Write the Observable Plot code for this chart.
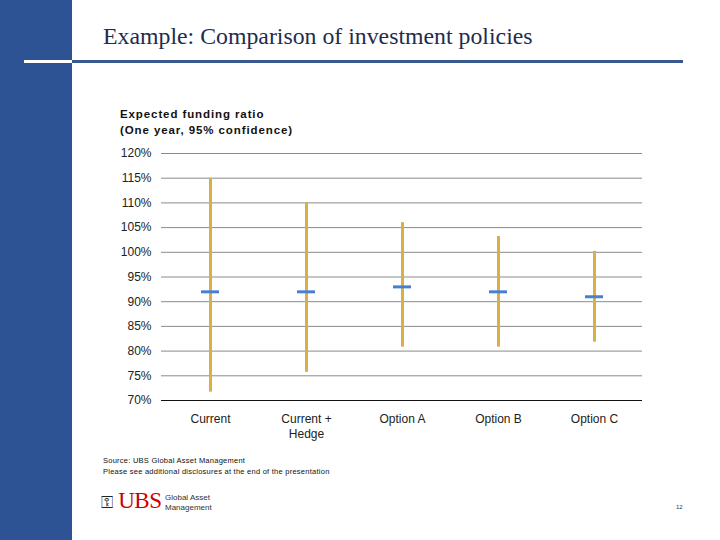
<!DOCTYPE html>
<html>
<head>
<meta charset="utf-8">
<script src="https://cdn.jsdelivr.net/npm/d3@7"></script>
<script src="https://cdn.jsdelivr.net/npm/@observablehq/plot@0.6"></script>
<style>
  html, body { margin: 0; padding: 0; background: #fff; }
  #page { position: relative; width: 720px; height: 540px; overflow: hidden; background: #fff; }
  .abs { position: absolute; }
  #sidebar { left: 0; top: 0; width: 72px; height: 540px; background: #2e5395; }
  #title { left: 103px; top: 23px; font-family: "Liberation Serif", "Times New Roman", serif; font-size: 23.8px; color: #1f2d4d; white-space: nowrap; }
  #rule1 { left: 24px; top: 60px; width: 48px; height: 3px; background: #fff; }
  #rule2 { left: 72px; top: 60px; width: 611px; height: 3px; background: #37598f; }
  #sub { left: 120px; top: 106px; font-family: "Liberation Sans", Arial, sans-serif; font-weight: bold; font-size: 11.5px; letter-spacing: 0.9px; line-height: 16px; color: #111; }
  #chart { left: 0; top: 140px; }
  #source { left: 103px; top: 455px; font-family: "Liberation Sans", Arial, sans-serif; font-size: 7.5px; letter-spacing: 0.25px; line-height: 11px; color: #111; }
  #logo { left: 101px; top: 488px; font-family: "Liberation Serif", "Times New Roman", serif; font-size: 23px; color: #c00; letter-spacing: -0.5px; }
  #logo2 { left: 165px; top: 493px; font-family: "Liberation Sans", Arial, sans-serif; font-size: 8px; line-height: 10px; color: #333; }
  #pnum { left: 676px; top: 504px; font-family: "Liberation Sans", Arial, sans-serif; font-size: 6px; color: #333; }
</style>
</head>
<body>
<div id="page">
  <div class="abs" id="sidebar"></div>
  <div class="abs" id="title">Example: Comparison of investment policies</div>
  <div class="abs" id="rule1"></div>
  <div class="abs" id="rule2"></div>
  <div class="abs" id="sub">Expected funding ratio<br>(One year, 95% confidence)</div>
  <div class="abs" id="chart"></div>
  <div class="abs" id="source">Source: UBS Global Asset Management<br>Please see additional disclosures at the end of the presentation</div>
  <div class="abs" id="logo"><span style="color:#222;font-size:16px;letter-spacing:0">⚿</span> UBS</div>
  <div class="abs" id="logo2">Global Asset<br>Management</div>
  <div class="abs" id="pnum">12</div>
</div>
<script>
const categories = ["Current", "Current +\nHedge", "Option A", "Option B", "Option C"];
const lowValues = [71.7, 75.7, 80.8, 80.8, 81.8];
const highValues = [115, 110, 106, 103.2, 100.2];
const expectedValues = [92, 92, 93, 92, 91];
const yTicks = [70, 75, 80, 85, 90, 95, 100, 105, 110, 115, 120];

const rows = categories.map((c, i) => ({
  cat: c, low: lowValues[i], high: highValues[i], exp: expectedValues[i]
}));

const chart = Plot.plot({
  width: 720,
  height: 305,
  marginLeft: 161,
  marginRight: 78,
  marginTop: 13,
  marginBottom: 45,
  style: { fontFamily: "'Liberation Sans', Arial, sans-serif", fontSize: "12px", color: "#222", background: "transparent" },
  x: { type: "band", domain: categories, padding: 0, label: null },
  y: { domain: [70, 120], label: null },
  marks: [
    Plot.ruleY(yTicks.filter(t => t > 70), { stroke: "#8a8a8a", strokeWidth: 1 }),
    Plot.ruleY([70], { stroke: "#111", strokeWidth: 1.2 }),
    Plot.ruleX(rows, { x: "cat", y1: "low", y2: "high", stroke: "#dbb043", strokeWidth: 3 }),
    Plot.tickY(rows, { x: "cat", y: "exp", stroke: "#4a7fd0", strokeWidth: 3, insetLeft: 39, insetRight: 39 }),
    Plot.axisY({ ticks: yTicks, tickFormat: d => d + "%", tickSize: 0, tickPadding: 10, fontSize: 12 }),
    Plot.axisX({ tickSize: 0, tickPadding: 11, fontSize: 12, lineHeight: 1.3 })
  ]
});
document.getElementById("chart").appendChild(chart);
</script>
</body>
</html>
